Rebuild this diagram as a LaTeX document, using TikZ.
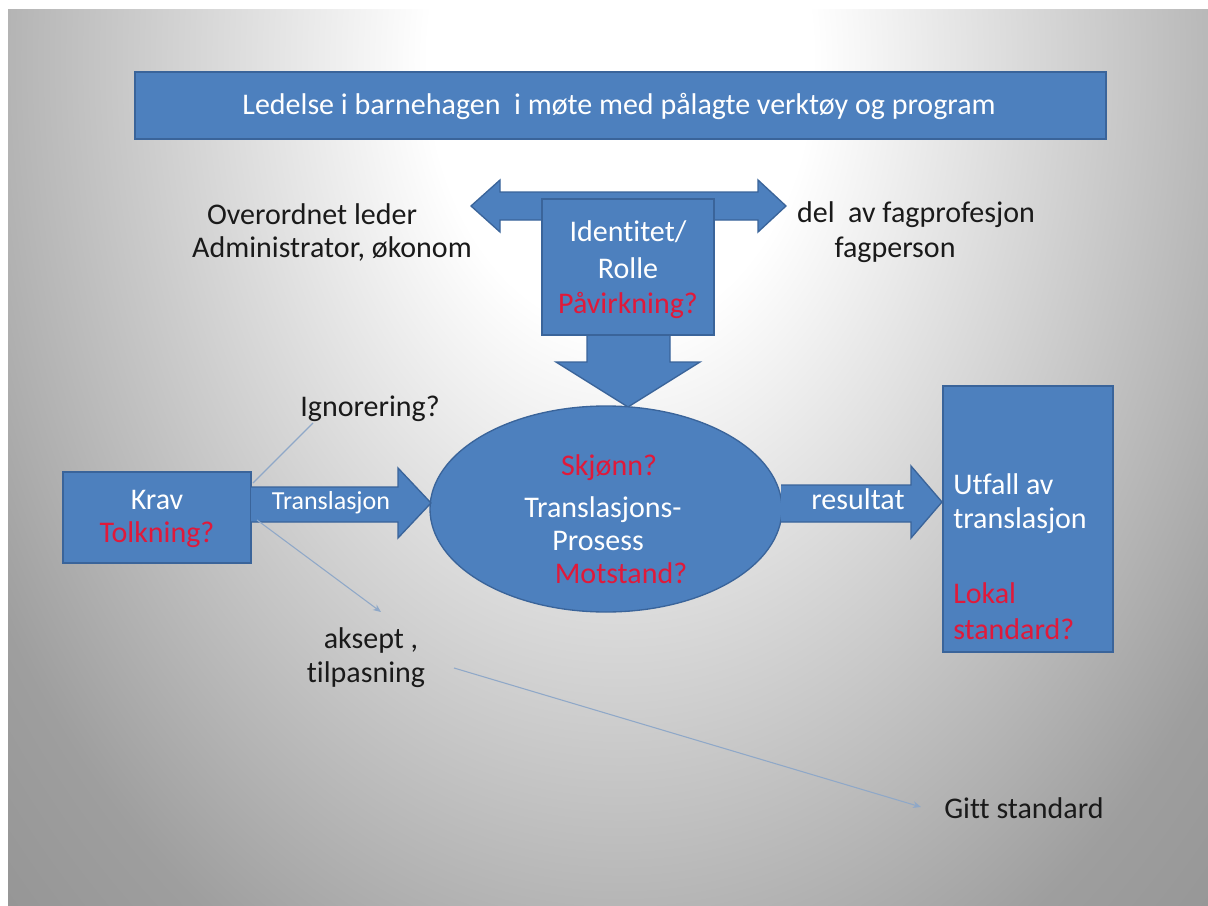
\documentclass[tikz,border=0pt]{standalone}
\usepackage{fontspec}
\setmainfont{Carlito}[Ligatures=NoCommon]
\usetikzlibrary{arrows.meta,calc,shapes.geometric}
\definecolor{boxblue}{HTML}{4D80BE}
\definecolor{boxedge}{HTML}{3A649A}
\definecolor{qred}{HTML}{E0193A}
\definecolor{thinline}{HTML}{8FA8C8}
\definecolor{darktext}{HTML}{1A1A1A}
\pgfdeclareradialshading{slidebg}{\pgfpoint{0bp}{0bp}}{color(0bp)=(white); color(3bp)=(white); color(11.5bp)=(black!38); color(17bp)=(black!47); color(50bp)=(black!47)}
\tikzset{
  bluebox/.style={draw=boxedge, line width=1pt, fill=boxblue, inner sep=0pt},
  blockarrow/.style={draw=boxedge, line width=1pt, fill=boxblue},
  wtxt/.style={text=white, font=\fontsize{22.5}{27}\selectfont, inner sep=0pt},
  rtxt/.style={text=qred, font=\fontsize{22.5}{27}\selectfont, inner sep=0pt},
  btxt/.style={text=darktext, font=\fontsize{22.5}{27}\selectfont, inner sep=0pt},
  thinline/.style={draw=thinline, line width=0.8pt},
  thinarrow/.style={draw=thinline, line width=0.8pt, -{Stealth[length=6pt,width=5pt]}},
}
\begin{document}
\begin{tikzpicture}[x=0.75pt,y=-0.75pt]
\useasboundingbox (0,0) rectangle (1208,906);
\fill[white] (0,0) rectangle (1208,906);
\begin{scope}
  \clip (8,10) rectangle (1208,906);
  \fill[black!47] (8,10) rectangle (1208,906);
  \shade[shading=slidebg] (620,60) ellipse (1200pt and 1680pt);
\end{scope}

% title banner
\node[bluebox, minimum width=728.25pt, minimum height=50.25pt] (title) at (620.5,105.5) {};
\node[wtxt] at (619,106) {Ledelse i barnehagen\ \ i møte med pålagte verktøy og program};

% double arrow (behind identity box)
\path[blockarrow] (471,206) -- (500,180) -- (500,192) -- (758,192) -- (758,180) -- (786,206)
  -- (758,232) -- (758,220) -- (500,220) -- (500,232) -- cycle;
% down arrow
\path[blockarrow] (587,320) -- (587,362) -- (556,362) -- (628,407) -- (700,362) -- (670,362) -- (670,320) -- cycle;

% identity box
\node[bluebox, minimum width=129pt, minimum height=102pt] (ident) at (628,267) {};
\node[wtxt] at (628,232) {Identitet/};
\node[wtxt] at (628,268) {Rolle};
\node[rtxt] at (628,305) {Påvirkning?};

% side texts
\node[btxt] (over1) at (312,214) {Overordnet leder};
\node[btxt] (over2) at (332,249) {Administrator, økonom};
\node[btxt] (del1) at (916,215) {del\ \ av fagprofesjon};
\node[btxt] (del2) at (895,250) {fagperson};

% ellipse
\node[bluebox, ellipse, minimum width=264pt, minimum height=154.5pt] (proc) at (606,509) {};
\node[rtxt] at (609,468) {Skjønn?};
\node[wtxt] at (603,510) {Translasjons-};
\node[wtxt] at (598,541) {Prosess};
\node[rtxt] at (621,573) {Motstand?};

% Krav box
\node[bluebox, minimum width=141pt, minimum height=68.25pt] (krav) at (157,517.5) {};
\node[wtxt] at (157,500) {Krav};
\node[rtxt] at (157,535) {Tolkning?};

% translasjon arrow
\path[blockarrow] (251,487) -- (398,487) -- (398,468) -- (431,503) -- (398,538) -- (398,522) -- (251,522);
\node[wtxt, font=\fontsize{19.5}{23}\selectfont] at (331,503) {Translasjon};

% resultat arrow
\path[blockarrow] (781,485) -- (911,485) -- (911,466) -- (942,502) -- (911,538) -- (911,522) -- (781,522);
\node[wtxt] at (858,499) {resultat};

% outcome box
\node[bluebox, minimum width=127.5pt, minimum height=199.5pt] (utfall) at (1028,519) {};
\node[wtxt, anchor=west] at (953,484) {Utfall av};
\node[wtxt, anchor=west] at (953,521) {translasjon};
\node[rtxt, anchor=west] at (953,593) {Lokal};
\node[rtxt, anchor=west] at (953,629) {standard?};

% free texts
\node[btxt] (ign) at (370,409) {Ignorering?};
\node[btxt] (aks) at (371,640) {aksept ,};
\node[btxt] (tilp) at (366,675) {tilpasning};
\node[btxt, anchor=west] (gitt) at (944,808) {Gitt standard};

% thin connectors
\coordinate (ignend) at (313,423);
\coordinate (kravne) at (253,483);
\coordinate (kravse) at (257,520);
\coordinate (akstip) at (381,612);
\coordinate (tilpend) at (454,668);
\coordinate (gitttip) at (921,807);
\draw[thinline] (kravne) -- (ignend);
\draw[thinarrow] (kravse) -- (akstip);
\draw[thinarrow] (tilpend) -- (gitttip);
\end{tikzpicture}
\end{document}
